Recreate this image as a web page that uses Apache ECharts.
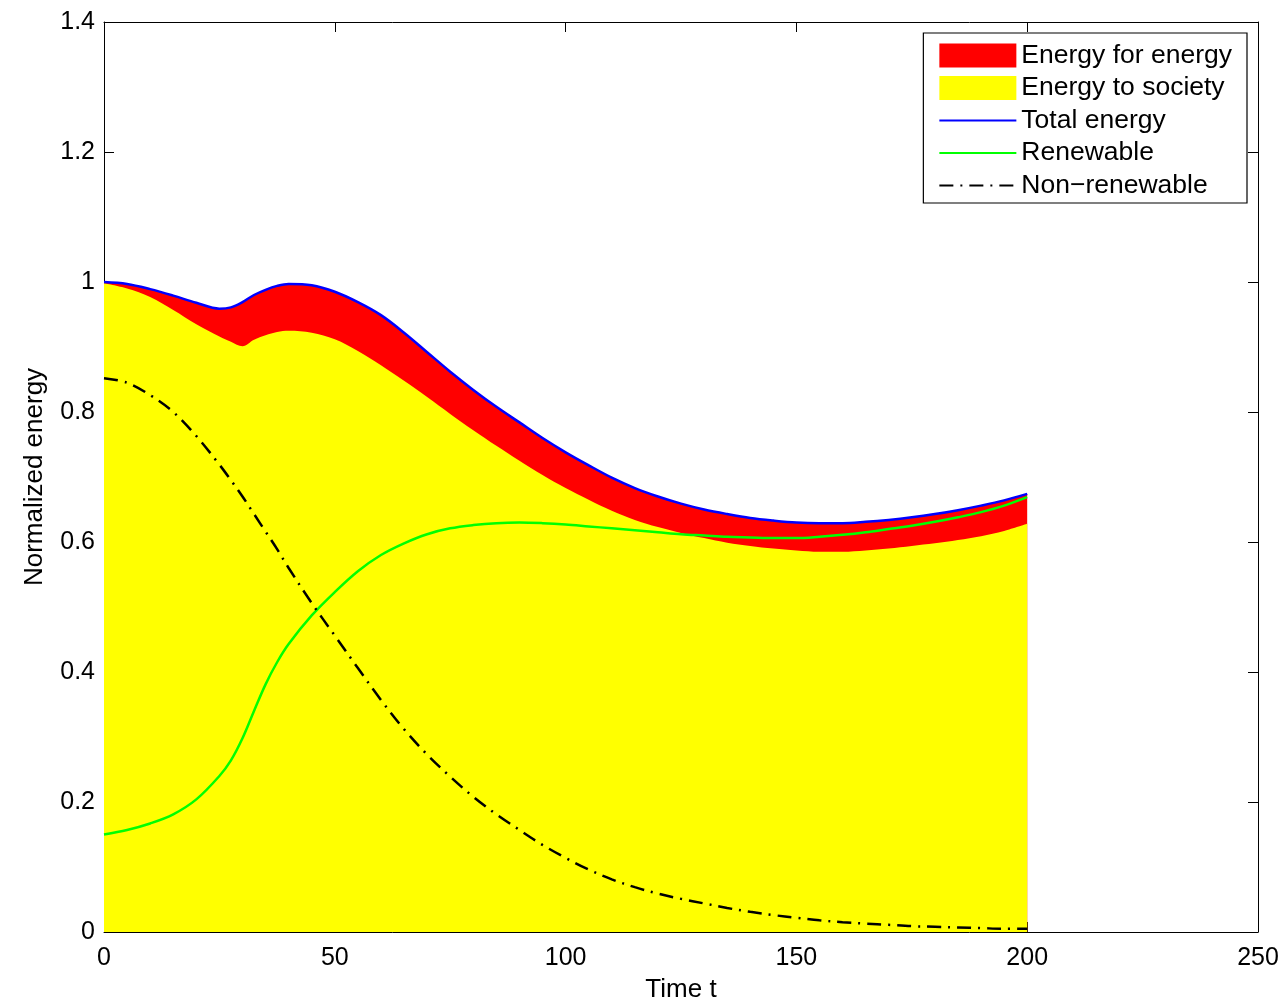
<!DOCTYPE html>
<html><head><meta charset="utf-8">
<script src="https://cdn.jsdelivr.net/npm/echarts@6/dist/echarts.min.js"></script>
<style>html,body{margin:0;padding:0;background:#fff}#c{width:1285px;height:1001px}</style>
</head><body><div id="c"></div>
<script>
const timeT = [0,5,10,15,20,25,27.5,30,32.5,35,37.5,40,45,50,55,60,65,70,75,80,85,90,95,100,105,110,115,120,125,130,135,140,145,150,155,160,165,170,175,180,185,190,195,200];
const totalEnergy = [1.000,0.997,0.989,0.979,0.968,0.959,0.961,0.969,0.980,0.988,0.994,0.997,0.995,0.985,0.969,0.949,0.922,0.892,0.862,0.834,0.808,0.784,0.760,0.738,0.718,0.699,0.683,0.670,0.659,0.650,0.643,0.637,0.633,0.630,0.629,0.629,0.631,0.634,0.638,0.643,0.649,0.656,0.664,0.674];
const energyToSociety = [0.998,0.990,0.977,0.957,0.935,0.916,0.908,0.901,0.911,0.918,0.923,0.925,0.922,0.912,0.894,0.872,0.848,0.823,0.797,0.772,0.748,0.725,0.703,0.683,0.665,0.648,0.634,0.623,0.614,0.606,0.599,0.594,0.590,0.587,0.585,0.585,0.587,0.590,0.594,0.598,0.603,0.609,0.617,0.628];
const renewable = [0.150,0.157,0.167,0.181,0.204,0.240,0.264,0.298,0.340,0.381,0.415,0.443,0.487,0.523,0.555,0.580,0.598,0.612,0.621,0.626,0.629,0.630,0.629,0.627,0.624,0.621,0.618,0.615,0.612,0.610,0.608,0.607,0.606,0.606,0.608,0.611,0.615,0.620,0.625,0.631,0.638,0.646,0.656,0.669];
const nonRenewable = [0.852,0.845,0.826,0.800,0.763,0.719,0.695,0.670,0.643,0.616,0.589,0.560,0.506,0.456,0.406,0.357,0.312,0.273,0.239,0.208,0.181,0.157,0.134,0.114,0.096,0.081,0.069,0.059,0.051,0.044,0.037,0.031,0.026,0.022,0.018,0.015,0.013,0.011,0.009,0.008,0.007,0.006,0.005,0.005];
const xTickValues = [0,50,100,150,200,250];
const yTickValues = [0,0.2,0.4,0.6,0.8,1,1.2,1.4];
const seriesNames = ['Energy for energy','Energy to society','Total energy','Renewable','Non\u2212renewable'];

const FONT = "'Liberation Sans', Arial, Helvetica, sans-serif";
const pairs = arr => timeT.map((t, i) => [t, arr[i]]);
const SMOOTH = 0.35;

function axisCommon(pos, showLabel) {
  return {
    type: 'value', position: pos,
    axisLine: { show: true, onZero: false, lineStyle: { color: '#000', width: 1 } },
    axisTick: { show: true, inside: true, length: 10, lineStyle: { color: '#000', width: 1 } },
    axisLabel: { show: showLabel, color: '#000', fontSize: 25, fontFamily: FONT },
    splitLine: { show: false }
  };
}
const xb = Object.assign(axisCommon('bottom', true), {
  min: xTickValues[0], max: xTickValues[xTickValues.length - 1], interval: 50,
  name: 'Time t', nameLocation: 'middle', nameGap: 45,
  nameTextStyle: { color: '#000', fontSize: 26, fontFamily: FONT }
});
xb.axisLabel.margin = 14;
const xt = Object.assign(axisCommon('top', false), { min: 0, max: 250, interval: 50 });
const yl = Object.assign(axisCommon('left', true), {
  min: yTickValues[0], max: yTickValues[yTickValues.length - 1], interval: 0.2,
  name: 'Normalized energy', nameLocation: 'middle', nameGap: 56, nameRotate: 90,
  nameTextStyle: { color: '#000', fontSize: 26, fontFamily: FONT }
});
yl.axisLabel.margin = 9;
const yr = Object.assign(axisCommon('right', false), { min: 0, max: 1.4, interval: 0.2 });

const hideSymbol = { opacity: 0 };
const chart = echarts.init(document.getElementById('c'), null, { renderer: 'canvas' });
chart.setOption({
  animation: false,
  backgroundColor: '#fff',
  grid: { left: 104, top: 22, right: 27, bottom: 69, containLabel: false, outerBoundsMode: 'none' },
  xAxis: [xb, xt],
  yAxis: [yl, yr],
  legend: {
    right: 38, top: 33, orient: 'vertical',
    backgroundColor: '#fff', borderColor: '#000', borderWidth: 1.2,
    padding: [9, 15, 4, 15],
    itemWidth: 77, itemHeight: 24, itemGap: 5.5,
    textStyle: { color: '#000', fontSize: 26.5, fontFamily: FONT },
    data: [
      { name: seriesNames[0], icon: 'rect' },
      { name: seriesNames[1], icon: 'rect' },
      { name: seriesNames[2], itemStyle: hideSymbol },
      { name: seriesNames[3], itemStyle: hideSymbol },
      { name: seriesNames[4], itemStyle: hideSymbol }
    ]
  },
  series: [
    // red: whole total area; the society (yellow) area is drawn over it, leaving total - society visible in red
    { name: seriesNames[0], type: 'line', data: pairs(totalEnergy), symbol: 'none', smooth: SMOOTH,
      color: '#ff0000', lineStyle: { width: 0 }, areaStyle: { color: '#ff0000', opacity: 1, origin: 'start' }, z: 1 },
    { name: seriesNames[1], type: 'line', data: pairs(energyToSociety), symbol: 'none', smooth: SMOOTH,
      color: '#ffff00', lineStyle: { width: 0 }, areaStyle: { color: '#ffff00', opacity: 1, origin: 'start' }, z: 2 },
    { name: seriesNames[2], type: 'line', data: pairs(totalEnergy), symbol: 'none', smooth: SMOOTH,
      color: '#0000ff', lineStyle: { width: 2.5, color: '#0000ff' }, z: 3 },
    { name: seriesNames[3], type: 'line', data: pairs(renewable), symbol: 'none', smooth: SMOOTH,
      color: '#00ff00', lineStyle: { width: 2.5, color: '#00ff00' }, z: 3 },
    { name: seriesNames[4], type: 'line', data: pairs(nonRenewable), symbol: 'none', smooth: SMOOTH,
      color: '#000000', lineStyle: { width: 2.5, color: '#000', type: [14, 7, 2, 7] }, z: 3 }
  ]
});
</script></body></html>
